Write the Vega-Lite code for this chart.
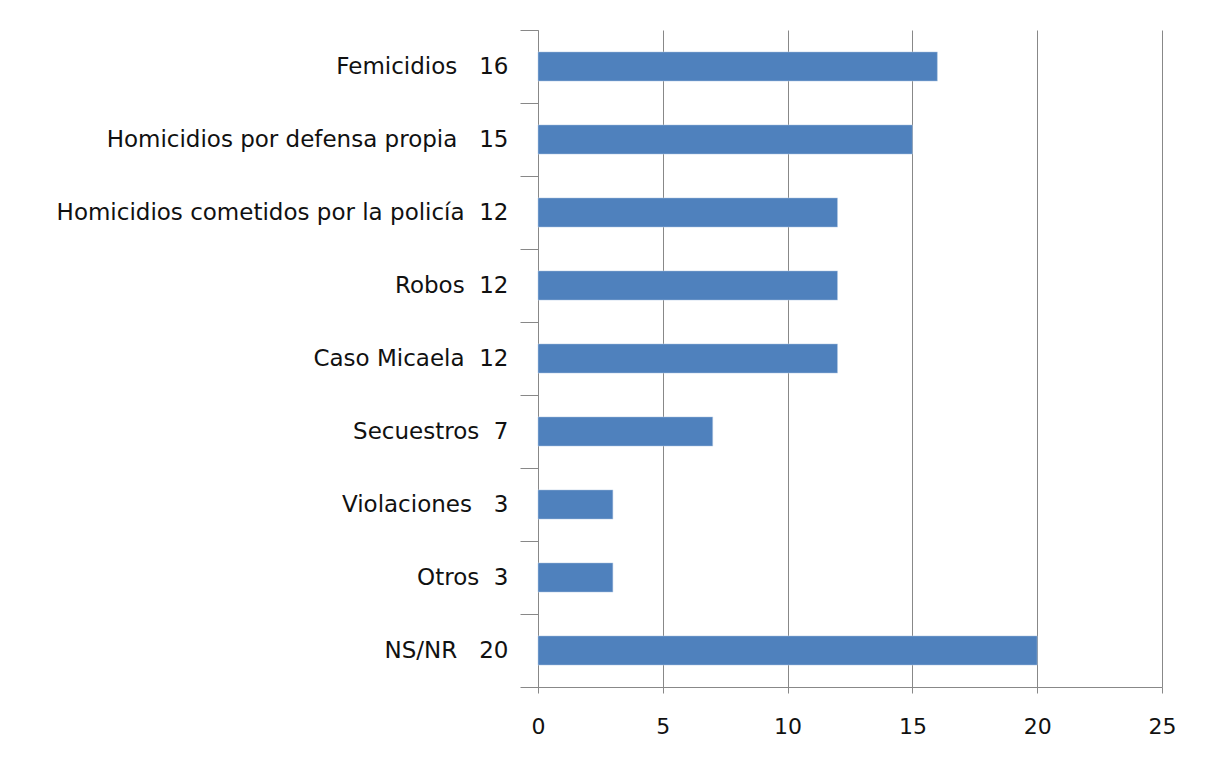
{
  "$schema": "https://vega.github.io/schema/vega-lite/v6.json",
  "width": 624,
  "height": 657,
  "autosize": {"type": "none"},
  "padding": {"left": 538, "top": 30, "right": 44, "bottom": 78},
  "background": "white",
  "config": {
    "view": {"stroke": null},
    "font": "DejaVu Sans",
    "axis": {"labelFont": "DejaVu Sans", "labelColor": "#111111", "labelFontSize": 22}
  },
  "data": {
    "values": [
      {"label": "Femicidios\u00a0\u00a0\u00a016", "value": 16},
      {"label": "Homicidios por defensa propia\u00a0\u00a0\u00a015", "value": 15},
      {"label": "Homicidios cometidos por la policía\u00a0\u00a012", "value": 12},
      {"label": "Robos\u00a0\u00a012", "value": 12},
      {"label": "Caso Micaela\u00a0\u00a012", "value": 12},
      {"label": "Secuestros\u00a0\u00a07", "value": 7},
      {"label": "Violaciones\u00a0\u00a0\u00a03", "value": 3},
      {"label": "Otros\u00a0\u00a03", "value": 3},
      {"label": "NS/NR\u00a0\u00a0\u00a020", "value": 20}
    ]
  },
  "mark": {"type": "bar", "color": "#4F81BD", "stroke": "#B9CDE5", "strokeWidth": 0.5, "height": {"band": 0.4}},
  "encoding": {
    "y": {
      "field": "label",
      "type": "nominal",
      "sort": null,
      "scale": {"paddingInner": 0, "paddingOuter": 0},
      "axis": {
        "title": null,
        "tickBand": "extent",
        "tickSize": 18,
        "tickColor": "#888888",
        "domainColor": "#888888",
        "labelPadding": 12,
        "labelLimit": 0,
        "labelFontSize": 23,
        "grid": false
      }
    },
    "x": {
      "field": "value",
      "type": "quantitative",
      "scale": {"domain": [0, 25], "nice": false},
      "axis": {
        "title": null,
        "values": [0, 5, 10, 15, 20, 25],
        "tickSize": 6,
        "tickColor": "#888888",
        "domainColor": "#888888",
        "grid": true,
        "gridColor": "#888888",
        "labelPadding": 23,
        "labelFlush": false
      }
    }
  }
}
